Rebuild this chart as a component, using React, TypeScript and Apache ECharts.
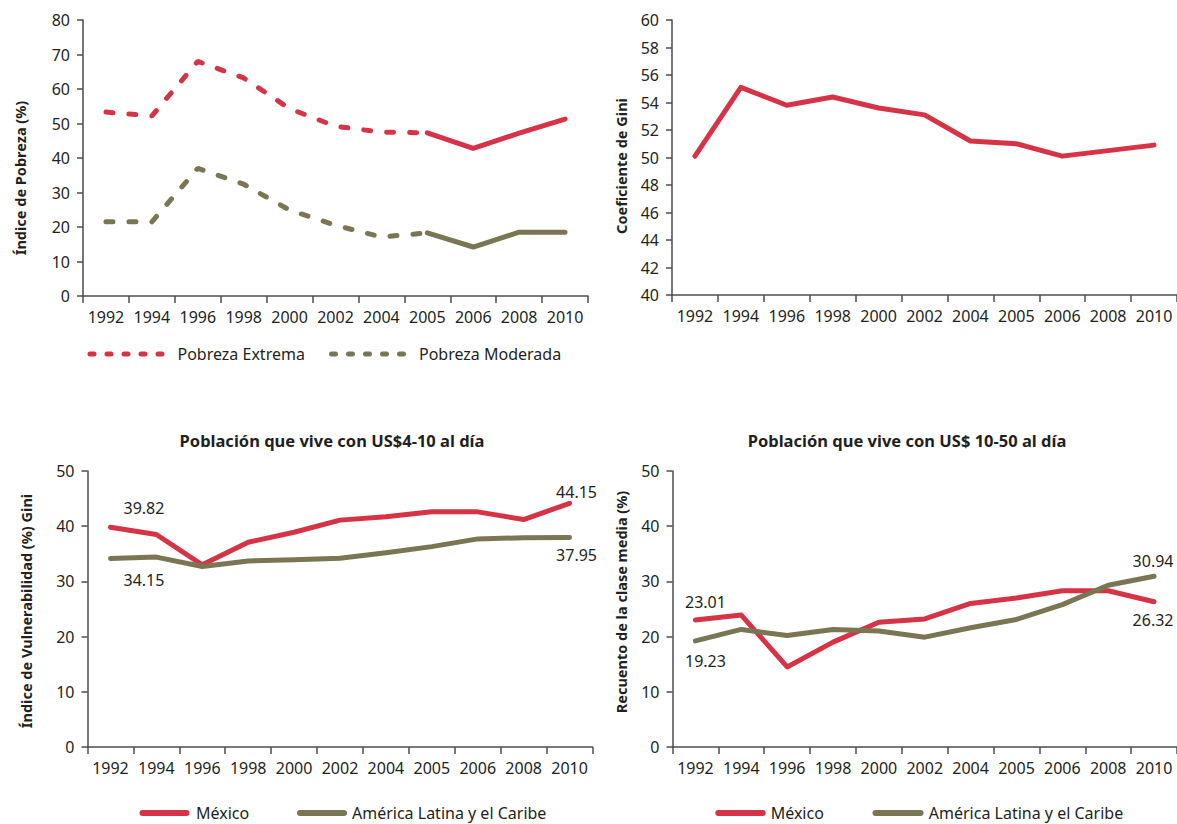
import { useEffect, useRef } from 'react';
import * as echarts from 'echarts';

const years = ['1992', '1994', '1996', '1998', '2000', '2002', '2004', '2005', '2006', '2008', '2010'];

// Panel 1: Índice de Pobreza (%)
const extremaDashed = [53.3, 52.2, 68.0, 63.2, 54.3, 49.2, 47.5, 47.3, null, null, null];
const extremaSolid = [null, null, null, null, null, null, null, 47.3, 42.8, 47.2, 51.3];
const moderadaDashed = [21.5, 21.5, 37.0, 32.4, 24.9, 20.5, 17.1, 18.3, null, null, null];
const moderadaSolid = [null, null, null, null, null, null, null, 18.3, 14.2, 18.5, 18.5];

// Panel 2: Coeficiente de Gini
const gini = [50.1, 55.1, 53.8, 54.4, 53.6, 53.1, 51.2, 51.0, 50.1, 50.5, 50.9];

// Panel 3: Población que vive con US$4-10 al día
const vulnMexico = [39.82, 38.5, 33.0, 37.1, 38.9, 41.1, 41.7, 42.6, 42.6, 41.2, 44.15];
const vulnALC = [34.15, 34.4, 32.7, 33.7, 33.9, 34.2, 35.2, 36.3, 37.7, 37.9, 37.95];

// Panel 4: Población que vive con US$ 10-50 al día
const medMexico = [23.01, 23.9, 14.5, 19.0, 22.6, 23.2, 26.0, 27.0, 28.3, 28.3, 26.32];
const medALC = [19.23, 21.3, 20.2, 21.3, 21.0, 19.9, 21.6, 23.1, 25.8, 29.3, 30.94];

const RED = '#d63446';
const OLIVE = '#7a7552';
const TEXT = '#231f20';
const AXIS = '#4d4d4f';
const FONT = '"Noto Sans", sans-serif';

type LabelSpec = { idx: number; pos: 'top' | 'bottom'; offset: [number, number] };

function withLabels(values: (number | null)[], specs: LabelSpec[]) {
  return values.map((v, i) => {
    const s = specs.find((x) => x.idx === i);
    if (!s || v == null) return v;
    return {
      value: v,
      symbol: 'circle',
      symbolSize: 1,
      itemStyle: { color: 'rgba(0,0,0,0)' },
      label: {
        show: true,
        position: s.pos,
        offset: s.offset,
        color: TEXT,
        fontSize: 16,
        fontFamily: FONT,
        formatter: (p: any) => Number(p.value).toFixed(2),
      },
    };
  });
}

export default function App() {
  const ref = useRef<HTMLDivElement>(null);

  useEffect(() => {
    if (!ref.current) return;
    const chart = echarts.init(ref.current, null, { renderer: 'svg' });

    const grids = [
      { left: 83, top: 20, width: 505, height: 276 },
      { left: 672, top: 20, width: 505, height: 275 },
      { left: 87.5, top: 471, width: 505, height: 276 },
      { left: 672.5, top: 471, width: 504.5, height: 276 },
    ];

    const xAxes = grids.map((_, i) => ({
      type: 'category',
      gridIndex: i,
      data: years,
      boundaryGap: true,
      axisLine: { lineStyle: { color: AXIS, width: 1.5 } },
      axisTick: { show: true, interval: 0, length: 7, lineStyle: { color: AXIS, width: 1.5 } },
      axisLabel: { interval: 0, margin: 13, color: TEXT, fontSize: 16, fontFamily: FONT },
    }));

    const yRanges = [
      [0, 80, 10],
      [40, 60, 2],
      [0, 50, 10],
      [0, 50, 10],
    ];
    const yAxes = yRanges.map(([min, max, interval], i) => ({
      type: 'value',
      gridIndex: i,
      min,
      max,
      interval,
      splitLine: { show: false },
      axisLine: { show: true, lineStyle: { color: AXIS, width: 1.5 } },
      axisTick: { show: true, length: 6, lineStyle: { color: AXIS, width: 1.5 } },
      axisLabel: { margin: 13, color: TEXT, fontSize: 16, fontFamily: FONT },
    }));

    const dash = [7, 16];
    const base = { type: 'line', symbol: 'none', showSymbol: true, connectNulls: false, z: 3 };

    const series = [
      { ...base, name: 'Pobreza Extrema', xAxisIndex: 0, yAxisIndex: 0, data: extremaDashed,
        itemStyle: { color: RED }, lineStyle: { color: RED, width: 5, type: dash, cap: 'round' } },
      { ...base, name: 'Pobreza Extrema (2005-2010)', xAxisIndex: 0, yAxisIndex: 0, data: extremaSolid,
        itemStyle: { color: RED }, lineStyle: { color: RED, width: 5, cap: 'round', join: 'round' } },
      { ...base, name: 'Pobreza Moderada', xAxisIndex: 0, yAxisIndex: 0, data: moderadaDashed,
        itemStyle: { color: OLIVE }, lineStyle: { color: OLIVE, width: 5, type: dash, cap: 'round' } },
      { ...base, name: 'Pobreza Moderada (2005-2010)', xAxisIndex: 0, yAxisIndex: 0, data: moderadaSolid,
        itemStyle: { color: OLIVE }, lineStyle: { color: OLIVE, width: 5, cap: 'round', join: 'round' } },
      { ...base, name: 'Coeficiente de Gini', xAxisIndex: 1, yAxisIndex: 1, data: gini,
        itemStyle: { color: RED }, lineStyle: { color: RED, width: 5, cap: 'round', join: 'round' } },
      { ...base, name: 'México', xAxisIndex: 2, yAxisIndex: 2,
        data: withLabels(vulnMexico, [
          { idx: 0, pos: 'top', offset: [33.5, -5.5] },
          { idx: 10, pos: 'top', offset: [7, 2.5] },
        ]),
        itemStyle: { color: RED }, lineStyle: { color: RED, width: 5, cap: 'round', join: 'round' } },
      { ...base, name: 'América Latina y el Caribe', xAxisIndex: 2, yAxisIndex: 2,
        data: withLabels(vulnALC, [
          { idx: 0, pos: 'bottom', offset: [33.5, 8] },
          { idx: 10, pos: 'bottom', offset: [7, 4] },
        ]),
        itemStyle: { color: OLIVE }, lineStyle: { color: OLIVE, width: 5, cap: 'round', join: 'round' } },
      { ...base, name: 'México', xAxisIndex: 3, yAxisIndex: 3,
        data: withLabels(medMexico, [
          { idx: 0, pos: 'top', offset: [10, -4.5] },
          { idx: 10, pos: 'bottom', offset: [-1, 5] },
        ]),
        itemStyle: { color: RED }, lineStyle: { color: RED, width: 5, cap: 'round', join: 'round' } },
      { ...base, name: 'América Latina y el Caribe', xAxisIndex: 3, yAxisIndex: 3,
        data: withLabels(medALC, [
          { idx: 0, pos: 'bottom', offset: [10, 7] },
          { idx: 10, pos: 'top', offset: [-1, -1.5] },
        ]),
        itemStyle: { color: OLIVE }, lineStyle: { color: OLIVE, width: 5, cap: 'round', join: 'round' } },
    ];

    const legendSpecs: { name: string; left: number; top: number; w: number; pad: number; dashed: boolean }[] = [
      { name: 'Pobreza Extrema', left: 87.5, top: 346, w: 72, pad: 10.5, dashed: true },
      { name: 'Pobreza Moderada', left: 329, top: 346, w: 73.5, pad: 9, dashed: true },
      { name: 'México', left: 139.5, top: 805, w: 44, pad: 4.5, dashed: false },
      { name: 'América Latina y el Caribe', left: 297, top: 805, w: 44, pad: 3, dashed: false },
      { name: 'México', left: 715.3, top: 805, w: 44.4, pad: 3, dashed: false },
      { name: 'América Latina y el Caribe', left: 872.5, top: 805, w: 45, pad: 3.3, dashed: false },
    ];
    const legends = legendSpecs.map((l) => ({
      data: [l.name],
      left: l.left,
      top: l.top,
      padding: 0,
      orient: 'horizontal',
      itemWidth: l.w,
      itemHeight: 16,
      selectedMode: false,
      itemStyle: { opacity: 0 },
      lineStyle: l.dashed
        ? { width: 5, type: [4, 13], cap: 'round' }
        : { width: 6, type: 'solid', cap: 'round' },
      textStyle: { color: TEXT, fontSize: 16, fontFamily: FONT, padding: [0, 0, 0, l.pad] },
    }));

    const axisTitle = (text: string, x: number, y: number) => ({
      type: 'text',
      x,
      y,
      rotation: Math.PI / 2,
      style: {
        text,
        fill: TEXT,
        fontSize: 14.5,
        fontWeight: 'bold',
        fontFamily: FONT,
        align: 'center',
        verticalAlign: 'middle',
      },
    });
    const panelTitle = (text: string, x: number, y: number) => ({
      type: 'text',
      x,
      y,
      style: {
        text,
        fill: TEXT,
        fontSize: 16.5,
        fontWeight: 'bold',
        fontFamily: FONT,
        align: 'center',
        verticalAlign: 'middle',
      },
    });

    chart.setOption({
      animation: false,
      backgroundColor: '#ffffff',
      grid: grids,
      xAxis: xAxes,
      yAxis: yAxes,
      series,
      legend: legends,
      graphic: [
        axisTitle('Índice de Pobreza (%)', 19.5, 178),
        axisTitle('Coeficiente de Gini', 621, 166),
        axisTitle('Índice de Vulnerabilidad (%) Gini', 25.5, 611),
        axisTitle('Recuento de la clase media (%)', 621, 602),
        panelTitle('Población que vive con US$4-10 al día', 332, 440),
        panelTitle('Población que vive con US$ 10-50 al día', 907, 440),
      ],
    });

    return () => chart.dispose();
  }, []);

  return (
    <div
      ref={ref}
      style={{ position: 'absolute', left: 0, top: 0, width: 1177, height: 824, background: '#fff' }}
    />
  );
}
